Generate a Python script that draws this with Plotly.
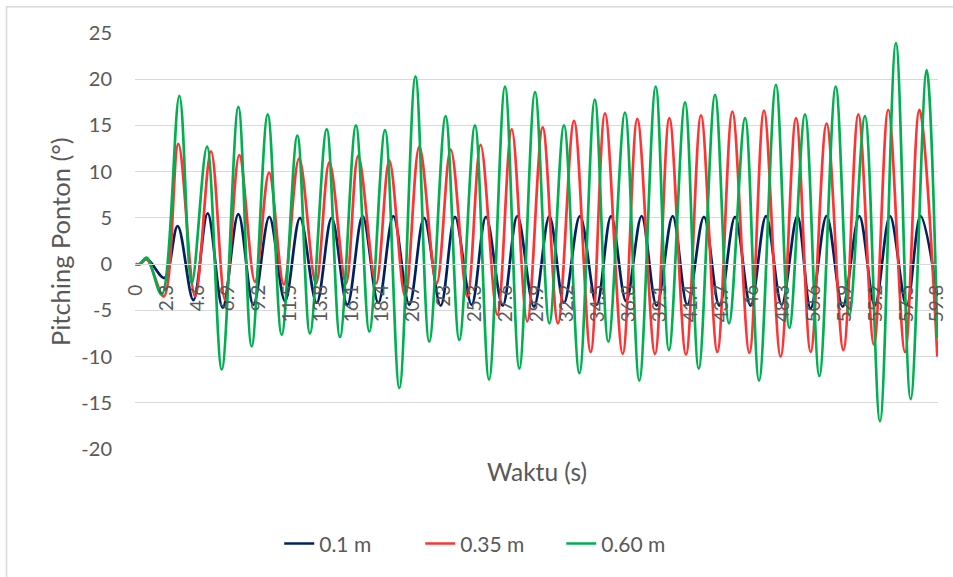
import plotly.graph_objects as go

# ---- data (extrema of each oscillation) ----
T_01 = [0, 0.3, 0.82, 2.14, 3.13, 4.3, 5.37, 6.49, 7.66, 8.78, 9.97, 11.14,
        12.26, 13.5, 14.62, 15.79, 16.93, 18.1, 19.22, 20.41, 21.51, 22.75, 23.82, 25.06,
        26.13, 27.38, 28.47, 29.71, 30.86, 31.95, 33.14, 34.39, 35.46, 36.58, 37.74, 38.86,
        40.06, 41.15, 42.39, 43.54, 44.71, 45.87, 47.02, 48.19, 49.36, 50.35, 51.54, 52.74,
        53.98, 55.14, 56.27, 57.51, 58.55, 59.8]
V_01 = [0, 0, 0.6, -1.5, 4.1, -3.9, 5.5, -4.7, 5.4, -4.4, 5.1, -4.0,
        5.0, -4.2, 5.0, -4.4, 5.2, -4.2, 5.2, -4.4, 5.0, -4.5, 5.1, -4.4,
        5.1, -4.5, 5.2, -4.6, 5.2, -4.2, 5.2, -4.4, 5.2, -4.0, 5.2, -4.5,
        5.2, -4.4, 5.1, -4.5, 5.1, -4.5, 5.2, -4.4, 5.2, -4.8, 5.2, -4.6,
        5.2, -4.5, 5.2, -4.5, 5.2, -3.5]

T_035 = [0, 0.3, 0.82, 2.1, 3.18, 4.43, 5.62, 6.67, 7.73, 8.9, 9.95, 11.05,
         12.19, 13.45, 14.45, 15.69, 16.6, 17.93, 18.92, 20.1, 21.16, 22.45, 23.5, 24.74,
         25.73, 26.98, 28.05, 29.21, 30.36, 31.5, 32.7, 33.94, 35.01, 36.33, 37.42, 38.74,
         39.81, 41.05, 42.17, 43.39, 44.51, 45.78, 46.87, 48.11, 49.26, 50.35, 51.54, 52.79,
         53.91, 55.07, 56.14, 57.39, 58.46, 59.8]
V_035 = [0, 0, 0.5, -3.5, 13.0, -3.5, 12.2, -3.9, 11.8, -1.9, 9.9, -2.2,
         11.4, -2.1, 11.0, -2.1, 11.7, -2.1, 11.2, -3.5, 12.7, -2.1, 12.4, -3.5,
         12.9, -5.5, 14.6, -6.2, 14.8, -6.4, 15.5, -9.5, 16.3, -9.7, 15.7, -9.7,
         15.8, -9.8, 16.1, -9.5, 16.5, -9.6, 16.6, -10.0, 15.8, -9.5, 15.2, -9.3,
         16.2, -8.7, 16.7, -9.5, 16.7, -10.0]

T_060 = [0, 0.3, 0.82, 1.94, 3.26, 4.18, 5.32, 6.42, 7.66, 8.65, 9.85, 10.89,
         12.06, 13.0, 14.25, 15.24, 16.43, 17.43, 18.6, 19.67, 20.87, 21.9, 23.12, 24.14,
         25.31, 26.36, 27.55, 28.62, 29.79, 30.86, 31.95, 33.1, 34.25, 35.26, 36.5, 37.57,
         38.79, 39.78, 40.98, 42.0, 43.22, 44.26, 45.46, 46.5, 47.76, 48.76, 49.93, 51.0,
         52.22, 53.23, 54.4, 55.52, 56.71, 57.81, 59.0, 59.8]
V_060 = [0, 0, 0.7, -3.3, 18.2, -2.1, 12.7, -11.4, 17.0, -8.9, 16.2, -7.65,
         13.9, -7.5, 14.6, -7.9, 15.0, -7.3, 14.5, -13.4, 20.3, -8.4, 16.0, -8.2,
         15.0, -12.5, 19.2, -11.3, 18.6, -6.4, 15.0, -11.8, 17.8, -8.4, 16.4, -12.6,
         19.2, -9.3, 17.5, -11.3, 18.3, -6.4, 15.8, -12.6, 19.4, -6.9, 16.2, -12.1,
         19.2, -5.5, 16.0, -17.0, 23.9, -14.6, 21.0, -8.0]

SERIES_NAMES = ["0.1 m", "0.35 m", "0.60 m"]
SERIES_COLORS = ["#002060", "#FF3333", "#00B050"]

X_TICK_LABELS = ["0", "2.3", "4.6", "6.9", "9.2", "11.5", "13.8", "16.1", "18.4",
                 "20.7", "23", "25.3", "27.6", "29.9", "32.2", "34.5", "36.8", "39.1",
                 "41.4", "43.7", "46", "48.3", "50.6", "52.9", "55.2", "57.5", "59.8"]
Y_TICK_LABELS = ["-20", "-15", "-10", "-5", "0", "5", "10", "15", "20", "25"]

X_TITLE = "Waktu (s)"
Y_TITLE = "Pitching Ponton (°)"

FONT = "Lato"
TXT = "#595959"
GRID = "#D9D9D9"

fig = go.Figure()
for t, v, name, col in zip([T_01, T_035, T_060], [V_01, V_035, V_060],
                           SERIES_NAMES, SERIES_COLORS):
    fig.add_trace(go.Scatter(x=t, y=v, mode="lines", name=name,
                             line=dict(color=col, width=2.7, shape="spline", smoothing=1.0)))

Y_MIN, Y_MAX = -20, 25

fig.update_layout(
    width=953, height=577,
    margin=dict(l=135, r=15, t=33, b=128),
    paper_bgcolor="white", plot_bgcolor="white",
    font=dict(family=FONT, color=TXT, size=19),
    showlegend=True,
    legend=dict(orientation="h", x=0.443, xanchor="center", y=-0.228, yanchor="middle",
                font=dict(size=21, color=TXT), bgcolor="rgba(0,0,0,0)",
                entrywidth=96, entrywidthmode="pixels"),
    xaxis=dict(range=[-0.05, 59.85], tickmode="array",
               tickvals=[float(s) for s in X_TICK_LABELS], ticktext=X_TICK_LABELS,
               tickangle=-90, showgrid=False, zeroline=False, automargin=False,
               showline=True, linecolor=GRID, linewidth=1,
               ticks="", anchor="free", position=(0 - Y_MIN) / (Y_MAX - Y_MIN),
               tickfont=dict(size=19, color=TXT), ticklabelstandoff=12),
    yaxis=dict(range=[Y_MIN, Y_MAX], tickmode="array",
               tickvals=[float(s) for s in Y_TICK_LABELS], ticktext=Y_TICK_LABELS,
               showgrid=True, gridcolor=GRID, automargin=False,
               gridwidth=1, zeroline=False, showline=False, ticks="",
               tickfont=dict(size=20, color=TXT), ticklabelstandoff=22),
    annotations=[
        dict(text=X_TITLE, xref="paper", yref="paper", x=0.5, y=-0.055,
             xanchor="center", yanchor="middle", showarrow=False,
             font=dict(size=24.5, color=TXT)),
        dict(text=Y_TITLE, xref="paper", yref="paper", x=-0.0934, y=0.5,
             xanchor="center", yanchor="middle", textangle=-90, showarrow=False,
             font=dict(size=25.5, color=TXT)),
    ],
    shapes=[dict(type="rect", xref="paper", yref="paper",
                 x0=-0.16, y0=1.063, x1=1.5, y1=-1.5,
                 line=dict(color=GRID, width=1.5), fillcolor="rgba(0,0,0,0)", layer="below")],
)

fig.write_html("out.html")
